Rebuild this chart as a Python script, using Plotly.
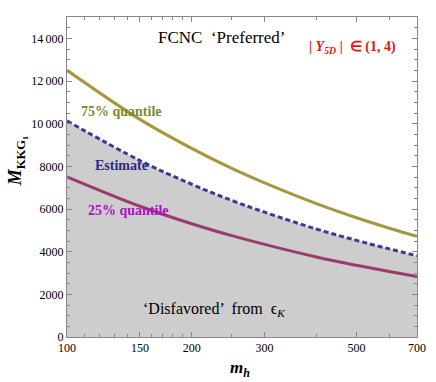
import plotly.graph_objects as go

# m_h values and read-off curve values
m_h = [100, 150, 200, 250, 300, 400, 500, 600, 700]
q75 = [12500, 10200, 8840, 7900, 7220, 6250, 5590, 5100, 4720]
estimate = [10130, 8270, 7160, 6400, 5850, 5060, 4530, 4130, 3810]
q25 = [7510, 6130, 5310, 4750, 4340, 3750, 3360, 3070, 2830]

x_ticks = [100, 150, 200, 300, 500, 700]
y_ticks = [0, 2000, 4000, 6000, 8000, 10000, 12000, 14000]
y_labels = ["0", "2000", "4000", "6000", "8000", "10\u2009000", "12\u2009000", "14\u2009000"]

serif = "Liberation Serif"

fig = go.Figure()
fig.add_trace(go.Scatter(x=m_h, y=estimate, mode="lines", line=dict(width=0, shape="spline"),
                         fill="tozeroy", fillcolor="rgb(205,205,205)", hoverinfo="skip"))
fig.add_trace(go.Scatter(x=m_h, y=q75, mode="lines",
                         line=dict(color="#a8973a", width=3, shape="spline")))
fig.add_trace(go.Scatter(x=m_h, y=estimate, mode="lines",
                         line=dict(color="#3a3a9e", width=3, dash="5px,3px", shape="spline")))
fig.add_trace(go.Scatter(x=m_h, y=q25, mode="lines",
                         line=dict(color="#9a3b70", width=3, shape="spline")))

axis_common = dict(showgrid=False, zeroline=False, showline=True, linecolor="#888",
                   linewidth=1, mirror="allticks", ticks="inside", tickcolor="#888",
                   tickfont=dict(family=serif, size=12, color="black"))

fig.update_xaxes(type="log", range=[2, 2.8451], tickvals=x_ticks,
                 ticktext=[str(v) for v in x_ticks], ticklen=5,
                 minor=dict(tickvals=[110, 120, 130, 140, 160, 170, 180, 190, 250, 400, 600],
                            ticks="inside", ticklen=3, tickcolor="#888"),
                 **axis_common)
fig.update_yaxes(range=[0, 15000], tickvals=y_ticks, ticktext=y_labels, ticklen=5,
                 minor=dict(dtick=500, ticks="inside", ticklen=3, tickcolor="#888"),
                 **axis_common)

annotations = [
    dict(x=0.44, y=0.935, text="FCNC  \u2018Preferred\u2019", font=dict(size=17, color="black")),
    dict(x=0.815, y=0.905, text="<b>| <i>Y</i><sub><i>5D</i></sub> |  \u2208 (1, 4)</b>",
         font=dict(size=14, color="#ee1111")),
    dict(x=0.155, y=0.705, text="<b>75% quantile</b>", font=dict(size=14, color="#7e8830")),
    dict(x=0.155, y=0.535, text="<b>Estimate</b>", font=dict(size=14, color="#2a2a88")),
    dict(x=0.175, y=0.395, text="<b>25% quantile</b>", font=dict(size=14, color="#b010c8")),
    dict(x=0.42, y=0.085, text="\u2018Disfavored\u2019  from  \u03f5<sub><i>K</i></sub>",
         font=dict(size=16, color="black")),
]
for a in annotations:
    a["font"]["family"] = serif
    fig.add_annotation(xref="paper", yref="paper", showarrow=False,
                       xanchor="center", yanchor="middle", **a)

fig.add_annotation(xref="paper", yref="paper", x=0.495, y=-0.1, showarrow=False,
                   xanchor="center", yanchor="middle",
                   text="<b><i>m</i></b><sub><b><i>h</i></b></sub>",
                   font=dict(family=serif, size=17, color="black"))
fig.add_annotation(xref="paper", yref="paper", x=-0.145, y=0.55, showarrow=False, textangle=-90,
                   xanchor="center", yanchor="middle",
                   text="<b><i>M</i></b><sub><b>KKG\u2081</b></sub>",
                   font=dict(family=serif, size=18, color="black"))

fig.update_layout(width=436, height=382, showlegend=False,
                  margin=dict(l=67, r=10, t=17, b=45),
                  plot_bgcolor="white", paper_bgcolor="white")

fig.write_html("out.html", config={"displayModeBar": False},
               post_script="document.body.style.margin='0';")
